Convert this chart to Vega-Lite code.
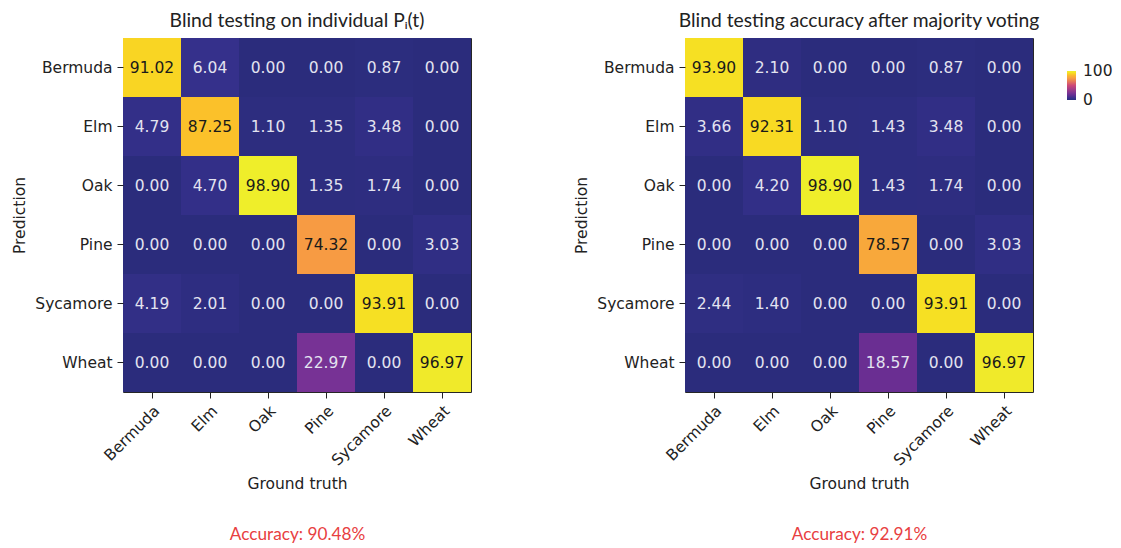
{
  "$schema": "https://vega.github.io/schema/vega-lite/v6.json",
  "padding": {"left": 12, "top": 11, "right": 0, "bottom": 0},
  "background": "white",
  "datasets": {
    "a": [
      {"p": "Bermuda", "t": "Bermuda", "v": 91.02}, {"p": "Bermuda", "t": "Elm", "v": 6.04}, {"p": "Bermuda", "t": "Oak", "v": 0.0}, {"p": "Bermuda", "t": "Pine", "v": 0.0}, {"p": "Bermuda", "t": "Sycamore", "v": 0.87}, {"p": "Bermuda", "t": "Wheat", "v": 0.0},
      {"p": "Elm", "t": "Bermuda", "v": 4.79}, {"p": "Elm", "t": "Elm", "v": 87.25}, {"p": "Elm", "t": "Oak", "v": 1.10}, {"p": "Elm", "t": "Pine", "v": 1.35}, {"p": "Elm", "t": "Sycamore", "v": 3.48}, {"p": "Elm", "t": "Wheat", "v": 0.0},
      {"p": "Oak", "t": "Bermuda", "v": 0.0}, {"p": "Oak", "t": "Elm", "v": 4.70}, {"p": "Oak", "t": "Oak", "v": 98.90}, {"p": "Oak", "t": "Pine", "v": 1.35}, {"p": "Oak", "t": "Sycamore", "v": 1.74}, {"p": "Oak", "t": "Wheat", "v": 0.0},
      {"p": "Pine", "t": "Bermuda", "v": 0.0}, {"p": "Pine", "t": "Elm", "v": 0.0}, {"p": "Pine", "t": "Oak", "v": 0.0}, {"p": "Pine", "t": "Pine", "v": 74.32}, {"p": "Pine", "t": "Sycamore", "v": 0.0}, {"p": "Pine", "t": "Wheat", "v": 3.03},
      {"p": "Sycamore", "t": "Bermuda", "v": 4.19}, {"p": "Sycamore", "t": "Elm", "v": 2.01}, {"p": "Sycamore", "t": "Oak", "v": 0.0}, {"p": "Sycamore", "t": "Pine", "v": 0.0}, {"p": "Sycamore", "t": "Sycamore", "v": 93.91}, {"p": "Sycamore", "t": "Wheat", "v": 0.0},
      {"p": "Wheat", "t": "Bermuda", "v": 0.0}, {"p": "Wheat", "t": "Elm", "v": 0.0}, {"p": "Wheat", "t": "Oak", "v": 0.0}, {"p": "Wheat", "t": "Pine", "v": 22.97}, {"p": "Wheat", "t": "Sycamore", "v": 0.0}, {"p": "Wheat", "t": "Wheat", "v": 96.97}
    ],
    "b": [
      {"p": "Bermuda", "t": "Bermuda", "v": 93.90}, {"p": "Bermuda", "t": "Elm", "v": 2.10}, {"p": "Bermuda", "t": "Oak", "v": 0.0}, {"p": "Bermuda", "t": "Pine", "v": 0.0}, {"p": "Bermuda", "t": "Sycamore", "v": 0.87}, {"p": "Bermuda", "t": "Wheat", "v": 0.0},
      {"p": "Elm", "t": "Bermuda", "v": 3.66}, {"p": "Elm", "t": "Elm", "v": 92.31}, {"p": "Elm", "t": "Oak", "v": 1.10}, {"p": "Elm", "t": "Pine", "v": 1.43}, {"p": "Elm", "t": "Sycamore", "v": 3.48}, {"p": "Elm", "t": "Wheat", "v": 0.0},
      {"p": "Oak", "t": "Bermuda", "v": 0.0}, {"p": "Oak", "t": "Elm", "v": 4.20}, {"p": "Oak", "t": "Oak", "v": 98.90}, {"p": "Oak", "t": "Pine", "v": 1.43}, {"p": "Oak", "t": "Sycamore", "v": 1.74}, {"p": "Oak", "t": "Wheat", "v": 0.0},
      {"p": "Pine", "t": "Bermuda", "v": 0.0}, {"p": "Pine", "t": "Elm", "v": 0.0}, {"p": "Pine", "t": "Oak", "v": 0.0}, {"p": "Pine", "t": "Pine", "v": 78.57}, {"p": "Pine", "t": "Sycamore", "v": 0.0}, {"p": "Pine", "t": "Wheat", "v": 3.03},
      {"p": "Sycamore", "t": "Bermuda", "v": 2.44}, {"p": "Sycamore", "t": "Elm", "v": 1.40}, {"p": "Sycamore", "t": "Oak", "v": 0.0}, {"p": "Sycamore", "t": "Pine", "v": 0.0}, {"p": "Sycamore", "t": "Sycamore", "v": 93.91}, {"p": "Sycamore", "t": "Wheat", "v": 0.0},
      {"p": "Wheat", "t": "Bermuda", "v": 0.0}, {"p": "Wheat", "t": "Elm", "v": 0.0}, {"p": "Wheat", "t": "Oak", "v": 0.0}, {"p": "Wheat", "t": "Pine", "v": 18.57}, {"p": "Wheat", "t": "Sycamore", "v": 0.0}, {"p": "Wheat", "t": "Wheat", "v": 96.97}
    ]
  },
  "spacing": 102,
  "hconcat": [
    {
      "width": 348, "height": 354,
      "data": {"name": "a"},
      "title": {"text": "Blind testing on individual Pᵢ(t)", "frame": "group", "anchor": "middle", "font": "Lato", "fontSize": 19.3, "fontWeight": "normal", "color": "#222", "offset": 7},
      "layer": [
        {
          "mark": {"type": "rect"},
          "encoding": {
            "x": {"field": "t", "type": "nominal", "sort": ["Bermuda", "Elm", "Oak", "Pine", "Sycamore", "Wheat"], "axis": {"title": "Ground truth", "labelAngle": -45, "labelAlign": "right", "labelBaseline": "top", "tickSize": 6, "labelPadding": 5, "titlePadding": 8, "domain": false}},
            "y": {"field": "p", "type": "nominal", "sort": ["Bermuda", "Elm", "Oak", "Pine", "Sycamore", "Wheat"], "axis": {"title": "Prediction", "tickSize": 6, "labelPadding": 5, "titlePadding": 7, "domain": false}},
            "color": {"field": "v", "type": "quantitative", "scale": {"type": "linear", "domain": [0, 6, 18.5, 23, 50, 74.3, 87.25, 91, 93.9, 97, 100], "range": ["#2b2c7c", "#35308b", "#6a2e92", "#773295", "#cc4778", "#f79b43", "#fbc12a", "#f9d523", "#f6e023", "#f0ea2a", "#eef02a"], "interpolate": "rgb"}, "legend": null}
          }
        },
        {
          "mark": {"type": "text", "fontSize": 15.5, "font": "DejaVu Sans"},
          "encoding": {
            "x": {"field": "t", "type": "nominal", "sort": ["Bermuda", "Elm", "Oak", "Pine", "Sycamore", "Wheat"], "axis": {"orient": "bottom", "title": "Accuracy: 90.48%", "labels": false, "ticks": false, "domain": false, "titleColor": "#e8403f", "titleFont": "Lato", "titleFontSize": 17.2, "titlePadding": 133}},
            "y": {"field": "p", "type": "nominal", "sort": ["Bermuda", "Elm", "Oak", "Pine", "Sycamore", "Wheat"], "axis": {"title": "Prediction", "tickSize": 6, "labelPadding": 5, "titlePadding": 7, "domain": false}},
            "text": {"field": "v", "type": "quantitative", "format": ".2f"},
            "color": {"condition": {"test": "datum.v > 50", "value": "#1a1a1a"}, "value": "#e3e3f0"}
          }
        }
      ],
      "resolve": {"scale": {"x": "independent"}, "axis": {"x": "independent"}}
    },
    {
      "width": 348, "height": 354,
      "data": {"name": "b"},
      "title": {"text": "Blind testing accuracy after majority voting", "frame": "group", "anchor": "middle", "font": "Lato", "fontSize": 19.3, "fontWeight": "normal", "color": "#222", "offset": 7},
      "layer": [
        {
          "mark": {"type": "rect"},
          "encoding": {
            "x": {"field": "t", "type": "nominal", "sort": ["Bermuda", "Elm", "Oak", "Pine", "Sycamore", "Wheat"], "axis": {"title": "Ground truth", "labelAngle": -45, "labelAlign": "right", "labelBaseline": "top", "tickSize": 6, "labelPadding": 5, "titlePadding": 8, "domain": false}},
            "y": {"field": "p", "type": "nominal", "sort": ["Bermuda", "Elm", "Oak", "Pine", "Sycamore", "Wheat"], "axis": {"title": "Prediction", "tickSize": 6, "labelPadding": 5, "titlePadding": 7, "domain": false}},
            "color": {"field": "v", "type": "quantitative", "scale": {"type": "linear", "domain": [0, 6, 18.5, 23, 50, 74.3, 87.25, 91, 93.9, 97, 100], "range": ["#2b2c7c", "#35308b", "#6a2e92", "#773295", "#cc4778", "#f79b43", "#fbc12a", "#f9d523", "#f6e023", "#f0ea2a", "#eef02a"], "interpolate": "rgb"},
              "legend": {"orient": "none", "legendX": 382, "legendY": 33, "direction": "vertical", "title": null, "gradientLength": 29, "gradientThickness": 9, "values": [0, 100], "labelFlush": false, "labelOverlap": false, "labelOffset": 7, "labelFontSize": 15.5, "labelFont": "DejaVu Sans", "labelColor": "#222", "gradientStrokeWidth": 0, "encode": {"labels": {"update": {"baseline": {"value": "middle"}}}}}}
          }
        },
        {
          "mark": {"type": "text", "fontSize": 15.5, "font": "DejaVu Sans"},
          "encoding": {
            "x": {"field": "t", "type": "nominal", "sort": ["Bermuda", "Elm", "Oak", "Pine", "Sycamore", "Wheat"], "axis": {"orient": "bottom", "title": "Accuracy: 92.91%", "labels": false, "ticks": false, "domain": false, "titleColor": "#e8403f", "titleFont": "Lato", "titleFontSize": 17.2, "titlePadding": 133}},
            "y": {"field": "p", "type": "nominal", "sort": ["Bermuda", "Elm", "Oak", "Pine", "Sycamore", "Wheat"], "axis": {"title": "Prediction", "tickSize": 6, "labelPadding": 5, "titlePadding": 7, "domain": false}},
            "text": {"field": "v", "type": "quantitative", "format": ".2f"},
            "color": {"condition": {"test": "datum.v > 50", "value": "#1a1a1a"}, "value": "#e3e3f0"}
          }
        }
      ],
      "resolve": {"scale": {"x": "independent"}, "axis": {"x": "independent"}}
    }
  ],
  "resolve": {"scale": {"color": "independent"}, "legend": {"color": "independent"}},
  "config": {
    "view": {"stroke": "#262626", "strokeWidth": 1},
    "axis": {"labelFont": "DejaVu Sans", "labelFontSize": 15.5, "titleFont": "DejaVu Sans", "titleFontSize": 15.5, "titleFontWeight": "normal", "labelColor": "#222", "titleColor": "#222", "tickColor": "#222", "grid": false}
  }
}
